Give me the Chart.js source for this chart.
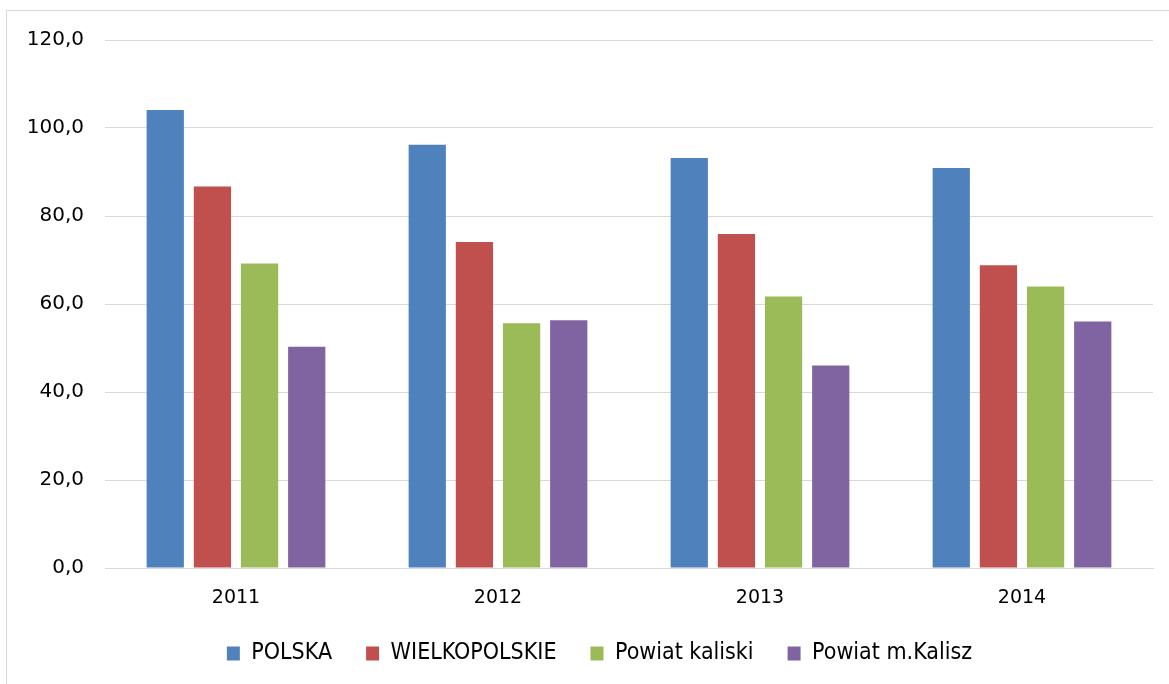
<!DOCTYPE html>
<html>
<head>
<meta charset="utf-8">
<script src="https://cdn.jsdelivr.net/npm/chart.js@4.4.0/dist/chart.umd.min.js"></script>
<style>
  html, body { margin: 0; padding: 0; background: #fff; overflow: hidden; }
  #frame { position: absolute; left: 6px; top: 10px; width: 1200px; height: 720px; border: 1px solid #d9d9d9; box-sizing: border-box; }
  #wrap { position: absolute; left: 0; top: 0; width: 1169px; height: 684px; }
</style>
</head>
<body>
<div id="frame"></div>
<div id="wrap"><canvas id="c" width="1169" height="684"></canvas></div>
<script>
// Data
const years = ['2011', '2012', '2013', '2014']
const polska = [104.1, 96.2, 93.2, 90.9]
const wielkopolskie = [86.7, 74.1, 75.9, 68.8]
const powiatKaliski = [69.2, 55.6, 61.7, 64.0]
const powiatKalisz = [50.3, 56.3, 46.0, 56.0]
const seriesNames = ['POLSKA', 'WIELKOPOLSKIE', 'Powiat kaliski', 'Powiat m.Kalisz']
const colors = ['#4f81bd', '#c0504d', '#9bbb59', '#8064a2']
const yTicks = [0, 20, 40, 60, 80, 100, 120]

const seriesValues = [polska, wielkopolskie, powiatKaliski, powiatKalisz]

const datasets = seriesValues.map((values, i) => ({
  label: seriesNames[i],
  data: values,
  backgroundColor: colors[i],
  borderWidth: 0,
  categoryPercentage: 0.72,
  barPercentage: 0.79,
}))

// legend in the original sits a bit right of the canvas centre
const legendShift = {
  id: 'legendShift',
  afterLayout(chart) {
    chart.legend.left = 46
  },
}

window.onload = main

function main() {
  const canvas = document.querySelector('#c')
  new Chart(canvas, {
    type: 'bar',
    data: { labels: years, datasets },
    plugins: [legendShift],
    options: {
      responsive: false,
      animation: false,
      layout: { padding: { top: 40, right: 16, left: 0, bottom: 9 } },
      plugins: {
        tooltip: { enabled: false },
        legend: {
          position: 'bottom',
          labels: {
            boxWidth: 13,
            boxHeight: 14,
            padding: 34,
            color: '#000',
            font: { family: '"DejaVu Sans Condensed", "DejaVu Sans", sans-serif', size: 23 },
          },
        },
      },
      scales: {
        x: {
          afterFit: (s) => { s.height = 40 },
          grid: { display: false, drawTicks: false },
          border: { color: '#d9d9d9' },
          ticks: {
            color: '#000',
            padding: 19,
            font: { family: '"DejaVu Sans", Tahoma, sans-serif', size: 19 },
          },
        },
        y: {
          min: 0,
          max: 120,
          afterFit: (s) => { s.width = 105 },
          afterBuildTicks: (s) => { s.ticks = yTicks.map(v => ({ value: v })) },
          grid: { color: '#d9d9d9', drawTicks: false },
          border: { display: false },
          ticks: {
            color: '#000',
            padding: 21,
            font: { family: '"DejaVu Sans", Tahoma, sans-serif', size: 20 },
            callback: (v) => v.toFixed(1).replace('.', ','),
          },
        },
      },
    },
  })
}
</script>
</body>
</html>
